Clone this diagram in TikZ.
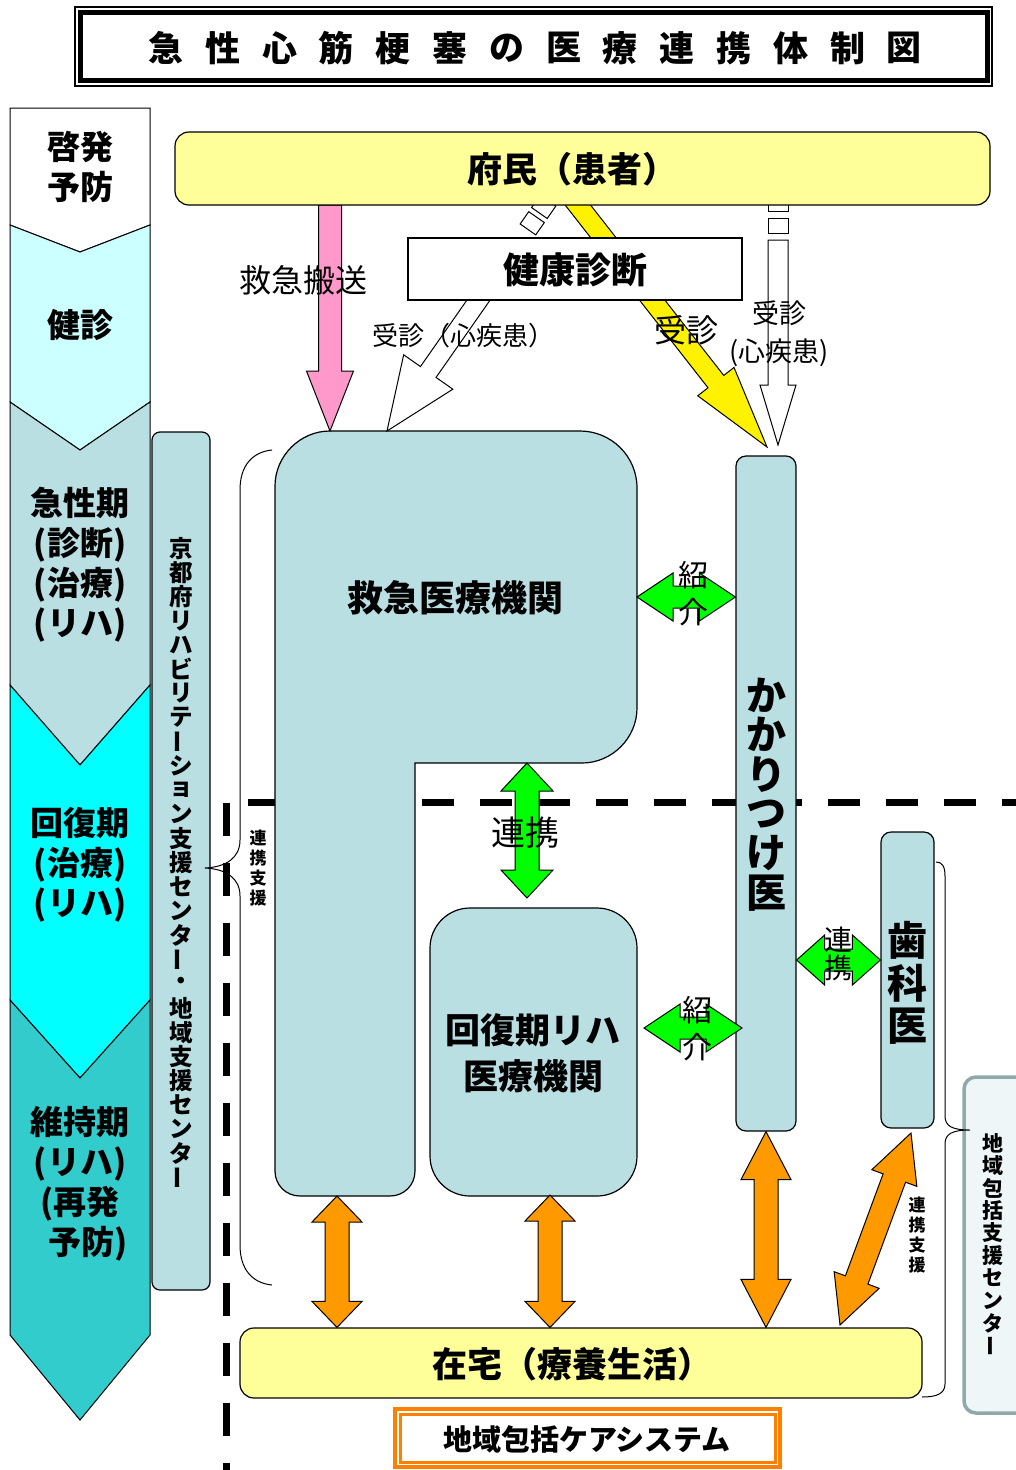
\documentclass[tikz,border=0pt]{standalone}
\usepackage{fontspec}
\usepackage{graphicx}
\setmainfont{Noto Sans CJK JP}
\usetikzlibrary{calc,positioning}

\definecolor{boxblue}{HTML}{B9DFE2}
\definecolor{paleyellow}{HTML}{FFFF99}
\definecolor{kenshinblue}{HTML}{CCFFFF}
\definecolor{kaifukublue}{HTML}{00FFFF}
\definecolor{ijiblue}{HTML}{33CCCC}
\definecolor{renkeigreen}{HTML}{00FF00}
\definecolor{zaitakuorange}{HTML}{FF9900}
\definecolor{careorange}{HTML}{FF8000}
\definecolor{hansopink}{HTML}{FF99CC}
\definecolor{chiikiline}{HTML}{8FA9AB}
\definecolor{chiikifill}{HTML}{EEF6F8}

\newcommand\fsz[1]{\fontsize{#1}{#1}\selectfont}
\newcommand\vbar{\rotatebox{90}{ー}}% long vowel mark in vertical text

% block arrows: style, from, to, shaft half width, head half width, head length
\newcommand\dblarrow[6]{%
  \path ($(#2)!#6!(#3)$) coordinate (ha) ($(#3)!#6!(#2)$) coordinate (hb);
  \draw[#1] (#2) -- ($(ha)!#5!90:(#3)$) -- ($(ha)!#4!90:(#3)$) -- ($(hb)!#4!-90:(#2)$) -- ($(hb)!#5!-90:(#2)$) -- (#3)
    -- ($(hb)!#5!90:(#2)$) -- ($(hb)!#4!90:(#2)$) -- ($(ha)!#4!-90:(#3)$) -- ($(ha)!#5!-90:(#3)$) -- cycle;}
\newcommand\sglarrow[6]{%
  \path ($(#3)!#6!(#2)$) coordinate (hb);
  \draw[#1] ($(#2)!#4!90:(#3)$) -- ($(hb)!#4!-90:(#2)$) -- ($(hb)!#5!-90:(#2)$) -- (#3)
    -- ($(hb)!#5!90:(#2)$) -- ($(hb)!#4!90:(#2)$) -- ($(#2)!#4!-90:(#3)$) -- cycle;}
% one block of a striped shaft: from, to, start, end, half width
\newcommand\stripe[5]{%
  \path ($(#1)!#3!(#2)$) coordinate (s1) ($(#1)!#4!(#2)$) coordinate (s2);
  \draw[line width=1pt,fill=white] ($(s1)!#5!90:(#2)$) -- ($(s2)!#5!90:(#2)$) -- ($(s2)!#5!-90:(#2)$) -- ($(s1)!#5!-90:(#2)$) -- cycle;}

\begin{document}
\begin{tikzpicture}[x=1pt,y=-1pt,% pixel grid, origin top left
    every node/.style={inner sep=0pt},
    box/.style={draw,line width=1.2pt,fill=boxblue},
    yellowbox/.style={draw,line width=1.2pt,fill=paleyellow,rounded corners=14pt},
    stage/.style={font=\bfseries\fontsize{33}{40}\selectfont,align=center},
    tatechar/.style={font=\bfseries\fsz{#1}},
    boxtext/.style={font=\bfseries\fsz{#1}},
    note/.style={font=\fsz{#1},align=center},
    arrpink/.style={draw,line width=1pt,fill=hansopink},
    arrwhite/.style={draw,line width=1pt,fill=white},
    arryellow/.style={draw,line width=1pt,fill=yellow},
    arrgreen/.style={draw,line width=1pt,fill=renkeigreen},
    arrorange/.style={draw,line width=1pt,fill=zaitakuorange}]
\useasboundingbox (0,0) rectangle (1016,1470);

% borders of the acute phase
\draw[line width=7pt,dash pattern=on 32pt off 26pt] (248,802) -- (1016,802);
\draw[line width=7pt,dash pattern=on 33pt off 27pt] (226,803) -- (226,1470);

% title
\draw[line width=1.2pt] (75,7) rectangle (992,86);
\draw[line width=5pt] (80,12.5) rectangle (987,80.5);
\foreach[count=\xi] \ch in {急,性,心,筋,梗,塞,の,医,療,連,携,体,制,図}{%
\node[boxtext=35] (title-\xi) at (109.2+56.8*\xi,48) {\ch};
}

% stage column on the left
\draw[line width=1pt,fill=white] (10,108) -- (150,108) -- (150,225) -- (80,252) -- (10,225) -- cycle;
\foreach \ya/\yb/\yc/\yd/\col in {225/252/402/450/kenshinblue,402/450/685/765/boxblue,685/765/1000/1078/kaifukublue,1000/1078/1335/1420/ijiblue}{%
\draw[line width=1pt,fill=\col] (10,\ya) -- (80,\yb) -- (150,\ya) -- (150,\yc) -- (80,\yd) -- (10,\yc) -- cycle;
}
\node[stage] (st-keihatsu) at (80,167) {啓発\\予防};
\node[stage] (st-kenshin) at (80,325) {健診};
\node[stage] (st-kyusei) at (80,565) {急性期\\(診断)\\(治療)\\(リハ)};
\node[stage] (st-kaifuku) at (80,865) {回復期\\(治療)\\(リハ)};
\node[stage] (st-iji) at (80,1184) {維持期\\(リハ)\\(再発\hspace*{.5em}\\\hspace*{.5em}予防)};

% prefectural rehabilitation support center
\node[box,rounded corners=8pt,minimum width=58pt,minimum height=858pt] (reha) at (181,861) {};
\foreach[count=\xi] \ch in {京,都,府,リ,ハ,ビ,リ,テ,\vbar,シ,ョ,ン,支,援,セ,ン,タ,\vbar,・,地,域,支,援,セ,ン,タ,\vbar}{%
\node[tatechar=23.5] (reha-\xi) at (181,524+24.2*\xi) {\ch};
}
\draw[line width=1pt] (272,450) .. controls (252,452) and (240,466) .. (240,490) -- (240,840)
  .. controls (240,858) and (226,867) .. (205,868) .. controls (226,869) and (240,878) .. (240,896)
  -- (240,1245) .. controls (240,1269) and (252,1283) .. (272,1285);
\foreach[count=\xi] \ch in {連,携,支,援}{%
\node[tatechar=17] (lsupport-\xi) at (258,818+20*\xi) {\ch};
}

% emergency hospital (L shape)
\draw[box] (275,1171) -- (275,486) .. controls (275,456) and (300,431) .. (330,431) -- (580,431)
  .. controls (611,431) and (637,456) .. (637,488) -- (637,708) .. controls (637,738) and (612,763) .. (582,763)
  -- (415,763) -- (415,1171) .. controls (415,1185) and (404,1196) .. (390,1196) -- (300,1196)
  .. controls (286,1196) and (275,1185) .. (275,1171) -- cycle;
\node[boxtext=36] (kyukyu) at (455,598) {救急医療機関};
\coordinate (kyukyu-n) at (330,431);
\coordinate (kyukyu-n2) at (387,431);
\coordinate (kyukyu-e) at (637,597);
\coordinate (kyukyu-s) at (527,763);
\coordinate (kyukyu-b) at (337,1196);

% recovery rehabilitation hospital
\node[box,rounded corners=40pt,minimum width=207pt,minimum height=288pt] (kaifuku) at (533.5,1052) {};
\node[boxtext=35] (kaifuku-l1) at (533,1030) {回復期リハ};
\node[boxtext=35,below=12pt of kaifuku-l1] (kaifuku-l2) {医療機関};
\coordinate (kaifuku-b) at (550,1195);

% family doctor and dentist
\node[box,rounded corners=10pt,minimum width=60pt,minimum height=675pt] (kakari) at (766,793.5) {};
\foreach[count=\xi] \ch in {か,か,り,つ,け,医}{%
\node[tatechar=40] (kakari-\xi) at (766,655.4+39.6*\xi) {\ch};
}
\node[box,rounded corners=10pt,minimum width=53pt,minimum height=296pt] (shika) at (907.5,980) {};
\foreach[count=\xi] \ch in {歯,科,医}{%
\node[tatechar=40] (shika-\xi) at (907,897+43*\xi) {\ch};
}

% home
\node[yellowbox,minimum width=682pt,minimum height=70pt] (zaitaku) at (581,1363) {};
\node[boxtext=35] (zaitaku-text) at (572,1364) {在宅（療養生活）};

% community support center
\node[draw=chiikiline,line width=3.5pt,fill=chiikifill,rounded corners=12pt,minimum width=80pt,minimum height=336pt] (chiiki) at (1004,1245) {};
\foreach[count=\xi] \ch in {地,域,包,括,支,援,セ,ン,タ,\vbar}{%
\node[tatechar=21] (chiiki-\xi) at (993,1120.5+22.5*\xi) {\ch};
}
\draw[line width=1pt] (936,862) .. controls (942,862) and (945,866) .. (945,876) -- (945,1116)
  .. controls (945,1126) and (952,1130) .. (970,1130) .. controls (952,1130) and (945,1134) .. (945,1144)
  -- (945,1384) .. controls (945,1394) and (936,1397) .. (922,1397);
\foreach[count=\xi] \ch in {連,携,支,援}{%
\node[tatechar=17] (rsupport-\xi) at (917,1185+20*\xi) {\ch};
}

% community care system
\node[draw=careorange,line width=4pt,minimum width=385pt,minimum height=58pt] (caresys) at (587.5,1438) {};
\draw[careorange,line width=3pt] ([shift={(7pt,-7pt)}]caresys.north west) rectangle ([shift={(-7pt,7pt)}]caresys.south east);
\node[boxtext=29] (caresys-text) at (587,1439) {地域包括ケアシステム};

% arrows from the residents
\coordinate (hanso-s) at (kyukyu-n |- 0,205);
\sglarrow{arrpink}{hanso-s}{kyukyu-n}{11.5pt}{23.5pt}{60pt}
\coordinate (jd-s) at (552,195);
\path ($(jd-s)!62pt!(kyukyu-n2)$) coordinate (jd-m);
\stripe{jd-s}{kyukyu-n2}{7pt}{22pt}{9.5pt}
\stripe{jd-s}{kyukyu-n2}{27pt}{42pt}{9.5pt}
\sglarrow{arrwhite}{jd-m}{kyukyu-n2}{9.5pt}{30pt}{72pt}
\coordinate (ys) at (570,195);
\coordinate (kakari-n1) at (767,447);
\sglarrow{arryellow}{ys}{kakari-n1}{10pt}{23pt}{83pt}
\coordinate (wv-s) at (778,195);
\coordinate (kakari-n2) at (778,445);
\path ($(wv-s)!45pt!(kakari-n2)$) coordinate (wv-m);
\stripe{wv-s}{kakari-n2}{2pt}{16pt}{10pt}
\stripe{wv-s}{kakari-n2}{23pt}{38pt}{10pt}
\sglarrow{arrwhite}{wv-m}{kakari-n2}{10pt}{18pt}{60pt}

% referral and cooperation
\dblarrow{arrgreen}{kyukyu-e}{kakari.west |- kyukyu-e}{11pt}{24pt}{36pt}
\coordinate (sho2-l) at (644,1028);
\coordinate (sho2-r) at (742,1028);
\dblarrow{arrgreen}{sho2-l}{sho2-r}{11pt}{24pt}{36pt}
\coordinate (ren2) at (840,960);
\dblarrow{arrgreen}{kakari.east |- ren2}{shika.west |- ren2}{11pt}{25pt}{28pt}
\coordinate (ren1-end) at (527,898);
\dblarrow{arrgreen}{kyukyu-s}{ren1-end}{12pt}{26pt}{28pt}

% to and from home
\dblarrow{arrorange}{kyukyu-b}{zaitaku.north -| kyukyu-b}{12pt}{25pt}{26pt}
\dblarrow{arrorange}{kaifuku-b}{zaitaku.north -| kaifuku-b}{12pt}{25pt}{26pt}
\dblarrow{arrorange}{kakari.south}{zaitaku.north -| kakari.south}{12pt}{25pt}{48pt}
\coordinate (shika-b) at (911,1133);
\coordinate (zaitaku-r) at (840,1325);
\dblarrow{arrorange}{shika-b}{zaitaku-r}{12pt}{24pt}{48pt}

% residents and health check (on top of the arrow ends)
\node[yellowbox,minimum width=815pt,minimum height=73pt] (fumin) at (582.5,168.5) {};
\node[boxtext=35] (fumin-text) at (572,169) {府民（患者）};
\node[draw,line width=1.2pt,fill=white,minimum width=334pt,minimum height=62pt] (kenkou) at (575,269) {};
\node[boxtext=36] (kenkou-text) at (575,270) {健康診断};

% arrow labels
\node[note=32] (hanso-text) at (303,280) {救急搬送};
\node[note=26] (jushin-text1) at (463,336) {受診（心疾患）};
\node[note=32] (jushin-text2) at (686,330) {受診};
\node[note=27,font=\fontsize{27}{38}\selectfont] (jushin-text3) at (779,334) {受診\\(心疾患)};
\node[note=30,font=\fontsize{30}{37}\selectfont] (shokai-text1) at (693,594) {紹\\介};
\node[note=30,font=\fontsize{30}{37}\selectfont] (shokai-text2) at (697,1029) {紹\\介};
\node[note=34] (renkei-text1) at (525,833) {連携};
\node[note=28] (renkei-text2) at (838,954) {連\\携};
\end{tikzpicture}
\end{document}
